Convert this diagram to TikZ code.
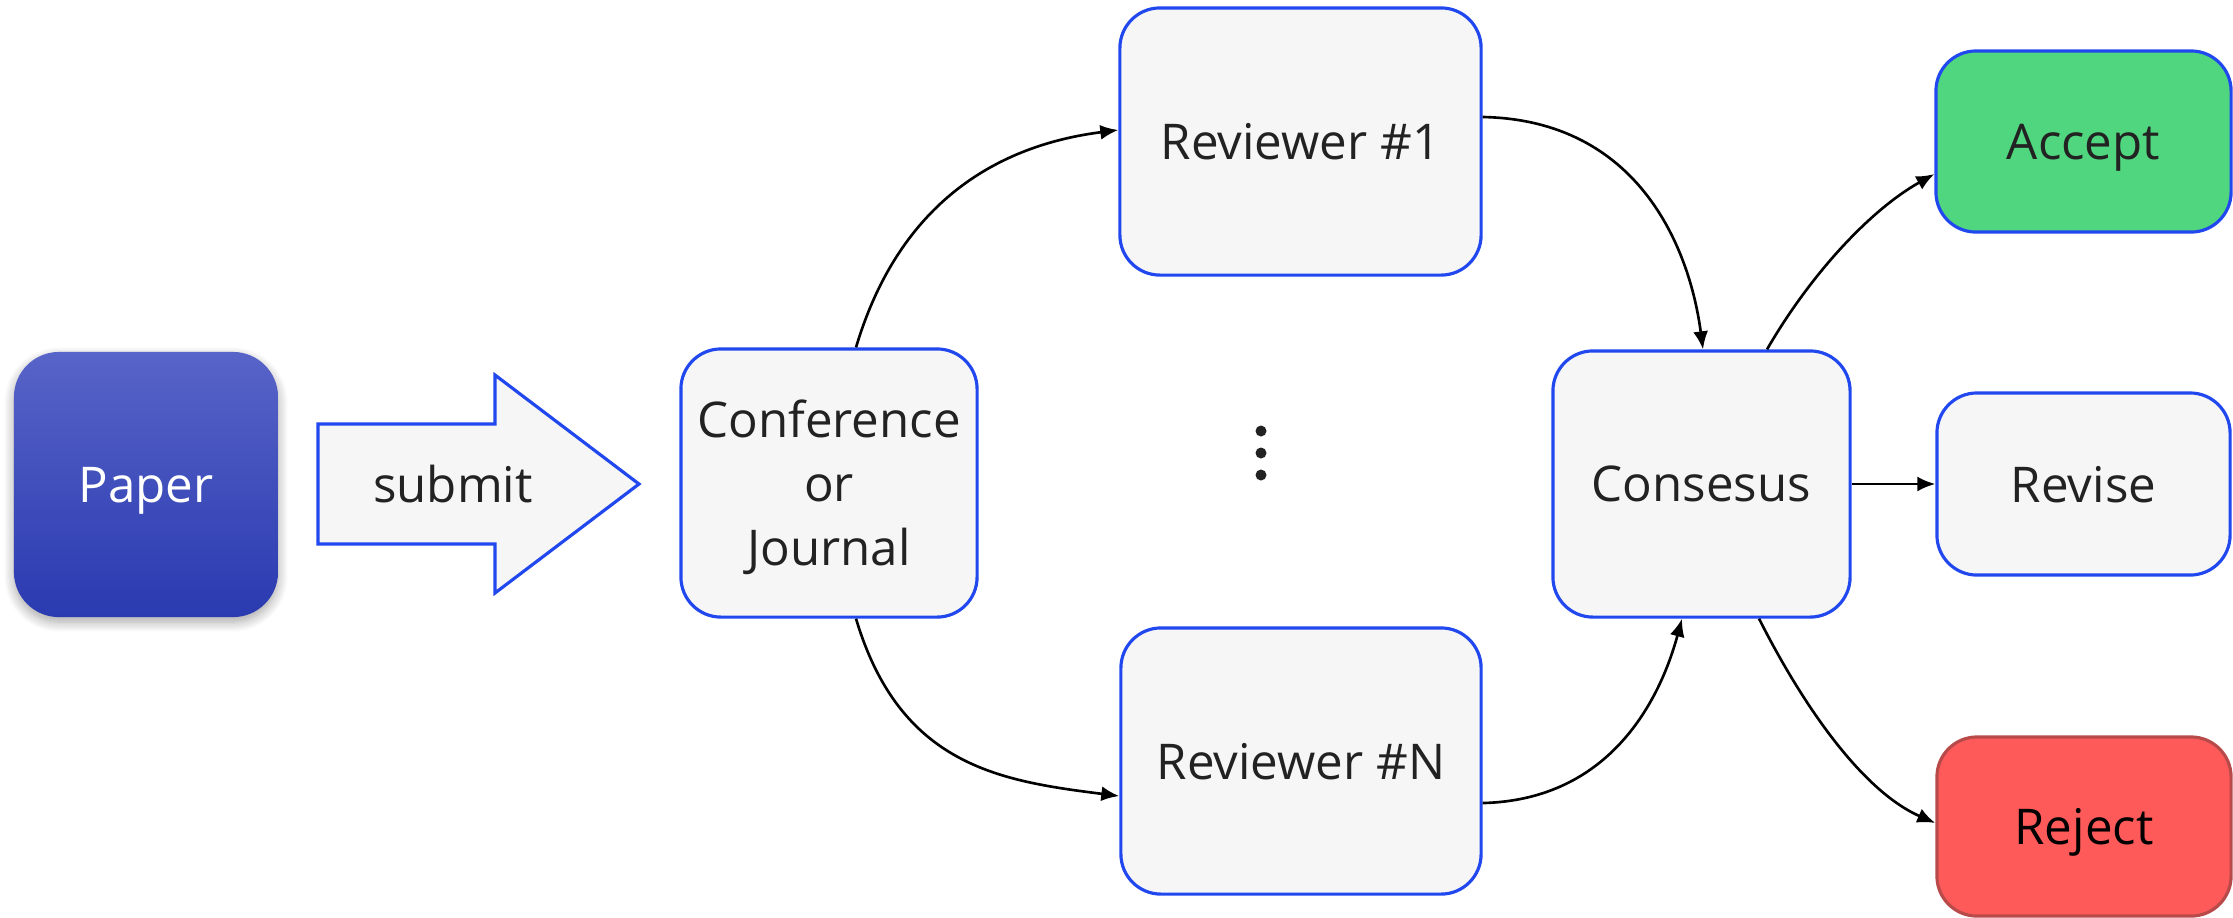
\documentclass[tikz,border=0pt]{standalone}
\usepackage{fontspec}
\setmainfont{Open Sans}
\usetikzlibrary{calc,shadows.blur,arrows.meta}
\definecolor{boxfill}{HTML}{F6F6F6}
\definecolor{boxline}{HTML}{2148EE}
\definecolor{txt}{HTML}{222222}
\definecolor{papertop}{HTML}{5864C8}
\definecolor{paperbot}{HTML}{2A3AB0}
\definecolor{acceptfill}{HTML}{4FD67F}
\definecolor{rejectfill}{HTML}{FF5A5A}
\definecolor{rejectline}{HTML}{B84A4A}
\tikzset{
  box/.style={rectangle, rounded corners=0.4cm, draw=boxline, line width=0.9pt,
    fill=boxfill, text=txt, font=\fontsize{14}{18.2}\selectfont, align=center,
    inner sep=0pt, text depth=0pt},
  flow/.style={-{Latex[length=0.18cm,width=0.15cm]}, line width=0.75pt, black},
}
\begin{document}
\begin{tikzpicture}[x=0.01cm, y=-0.01cm]
\useasboundingbox (0,0) rectangle (2233,917);

% source document
\node[rectangle, rounded corners=0.45cm, top color=papertop, bottom color=paperbot,
  draw=none, minimum width=2.64cm, minimum height=2.65cm, text=white,
  font=\fontsize{14}{18.2}\selectfont, text depth=0pt,
  blur shadow={shadow blur steps=10, shadow xshift=0pt, shadow yshift=-0.05cm,
    shadow opacity=35, shadow blur radius=0.1cm}]
  (paper) at (146,484.5) {Paper};

% submit arrow
\draw[draw=boxline, line width=0.9pt, fill=boxfill]
  (318,424) -- (495,424) -- (495,375) -- (639,484) -- (495,593) -- (495,544) -- (318,544) -- cycle;
\node[text=txt, font=\fontsize{14}{18.2}\selectfont, text depth=0pt] (submit) at (453,484) {submit};

% venue and reviewers
\node[box, minimum width=2.96cm, minimum height=2.68cm] (conf) at (829,483) {Conference\\or\\Journal};
\node[box, minimum width=3.61cm, minimum height=2.67cm] (rev1) at (1300.5,141.5) {Reviewer \#1};
\node[box, minimum width=3.60cm, minimum height=2.66cm] (revN) at (1301,761) {Reviewer \#N};
\node[box, minimum width=2.97cm, minimum height=2.66cm] (cons) at (1701.5,484) {Consesus};

% outcomes
\node[box, fill=acceptfill, minimum width=2.95cm, minimum height=1.81cm] (accept) at (2083.5,141.5) {Accept};
\node[box, minimum width=2.93cm, minimum height=1.82cm] (revise) at (2083.5,484) {Revise};
\node[box, fill=rejectfill, draw=rejectline, text=black, minimum width=2.94cm, minimum height=1.79cm] (reject) at (2084,826.5) {Reject};

% vertical ellipsis between reviewers
\foreach \yy/\nm in {431/d1,453/d2,475/d3}
  \fill[txt] (1261,\yy) circle (0.055cm) coordinate (\nm);

% connectors
\draw[flow] ([xshift=0.27cm]conf.north) .. controls (900,200) and (1000,145) .. ([yshift=0.115cm]rev1.west);
\draw[flow] ([xshift=0.27cm]conf.south) .. controls (900,766) and (1000,781) .. ([yshift=-0.35cm]revN.west);
\draw[flow] ([yshift=0.245cm]rev1.east) .. controls (1640,120) and (1690,250) .. ([xshift=0.015cm]cons.north);
\draw[flow] ([yshift=-0.42cm]revN.east) .. controls (1610,800) and (1660,700) .. ([xshift=-0.195cm]cons.south);
\draw[flow] ([xshift=0.655cm]cons.north) .. controls (1810,275) and (1870,210) .. ([yshift=-0.325cm]accept.west);
\draw[flow] (cons.east) -- (revise.west);
\draw[flow] ([xshift=0.575cm]cons.south) .. controls (1800,700) and (1860,790) .. ([yshift=0.035cm]reject.west);
\end{tikzpicture}
\end{document}
